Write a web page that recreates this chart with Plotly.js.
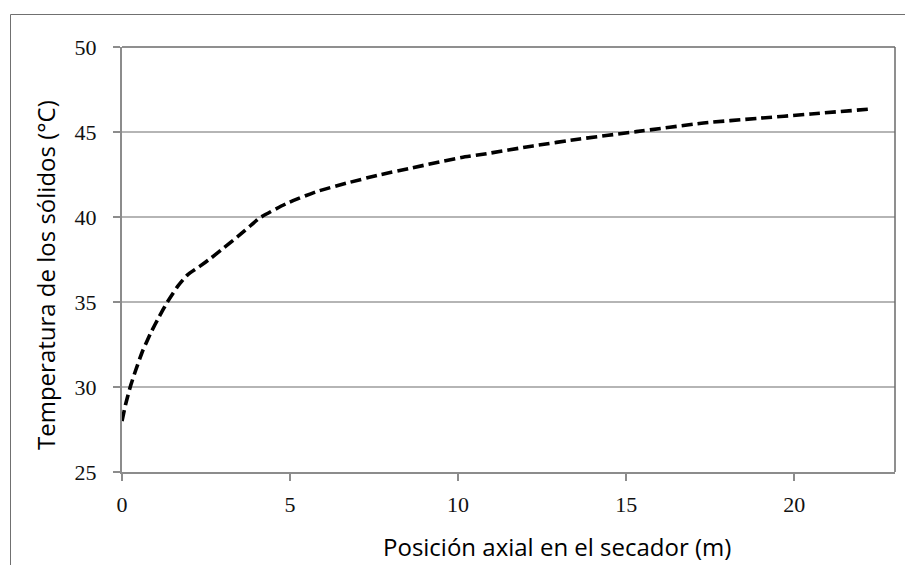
<!DOCTYPE html>
<html>
<head>
<meta charset="utf-8">
<script src="https://cdn.plot.ly/plotly-3.0.1.min.js"></script>
<style>html,body{margin:0;padding:0;background:#fff;}#chart{width:905px;height:565px;}</style>
</head>
<body>
<div id="chart"></div>
<script>
// Data
const posicion = [0, 0.11, 0.26, 0.41, 0.61, 0.86, 1.11, 1.35, 1.65, 1.95, 2.30, 2.64, 3.04, 3.44, 3.83, 4.1, 4.9, 5.8, 6.7, 7.6, 8.65, 10.1, 10.74, 12.23, 13.62, 15.3, 17.3, 18.9, 20.5, 22.2];
const temperatura = [28.0, 29.0, 30.1, 31.0, 32.1, 33.2, 34.15, 35.0, 35.9, 36.6, 37.08, 37.57, 38.2, 38.84, 39.5, 39.95, 40.8, 41.5, 42.0, 42.45, 42.9, 43.5, 43.69, 44.18, 44.59, 45.02, 45.53, 45.8, 46.06, 46.34];
const xTicks = [0, 5, 10, 15, 20];
const yTicks = [25, 30, 35, 40, 45, 50];
const xTitle = 'Posición axial en el secador (m)';
const yTitle = 'Temperatura de los sólidos (°C)';

const L = 122, R = 10, T = 47, B = 93, W = 905, H = 565;
const pw = W - L - R, ph = H - T - B;
const px = v => (v - L) / pw;
const py = v => 1 - (v - T) / ph;

const trace = {
  x: posicion, y: temperatura, type: 'scatter', mode: 'lines',
  line: {color: '#000', width: 3.6, dash: '11px,5px', shape: 'spline', smoothing: 0.5},
  hoverinfo: 'skip'
};

const tickFont = {family: '"Liberation Serif", "Times New Roman", serif', size: 22, color: '#111'};
const titleFont = {family: '"Open Sans", "Noto Sans", sans-serif', size: 24, color: '#000'};

const layout = {
  width: W, height: H,
  margin: {l: L, r: R, t: T, b: B, pad: 0},
  paper_bgcolor: '#fff', plot_bgcolor: '#fff',
  showlegend: false,
  xaxis: {
    range: [0, 23], tickvals: xTicks, ticktext: xTicks.map(String),
    showgrid: false, zeroline: false,
    showline: true, linecolor: '#8c8c8c', linewidth: 2,
    ticks: 'outside', ticklen: 7, tickcolor: '#8c8c8c', tickwidth: 1.5,
    ticklabelstandoff: 5,
    tickfont: tickFont, fixedrange: true
  },
  yaxis: {
    range: [25, 50], tickvals: yTicks, ticktext: yTicks.map(String),
    showgrid: true, gridcolor: '#b5b5b5', gridwidth: 1.5, zeroline: false,
    showline: true, linecolor: '#8c8c8c', linewidth: 2,
    ticks: 'outside', ticklen: 7, tickcolor: '#8c8c8c', tickwidth: 1.5,
    ticklabelstandoff: 12,
    tickfont: tickFont, fixedrange: true
  },
  shapes: [
    {type: 'line', xref: 'paper', yref: 'paper', x0: 0, x1: 1, y0: 1, y1: 1, line: {color: '#6a6a6a', width: 1.5}},
    {type: 'line', xref: 'paper', yref: 'paper', x0: 1, x1: 1, y0: 0, y1: 1, line: {color: '#6a6a6a', width: 1.5}},
    {type: 'rect', xref: 'paper', yref: 'paper', x0: px(10.5), x1: px(960), y0: py(14.5), y1: py(620), line: {color: '#707070', width: 1}, fillcolor: 'rgba(0,0,0,0)'}
  ],
  annotations: [
    {text: xTitle, xref: 'paper', yref: 'paper', x: px(557), y: py(546), xanchor: 'center', yanchor: 'middle', showarrow: false, font: titleFont},
    {text: yTitle, xref: 'paper', yref: 'paper', x: px(45), y: py(275), xanchor: 'center', yanchor: 'middle', textangle: -90, showarrow: false, font: titleFont}
  ]
};

Plotly.newPlot('chart', [trace], layout, {displayModeBar: false, staticPlot: true});
</script>
</body>
</html>
